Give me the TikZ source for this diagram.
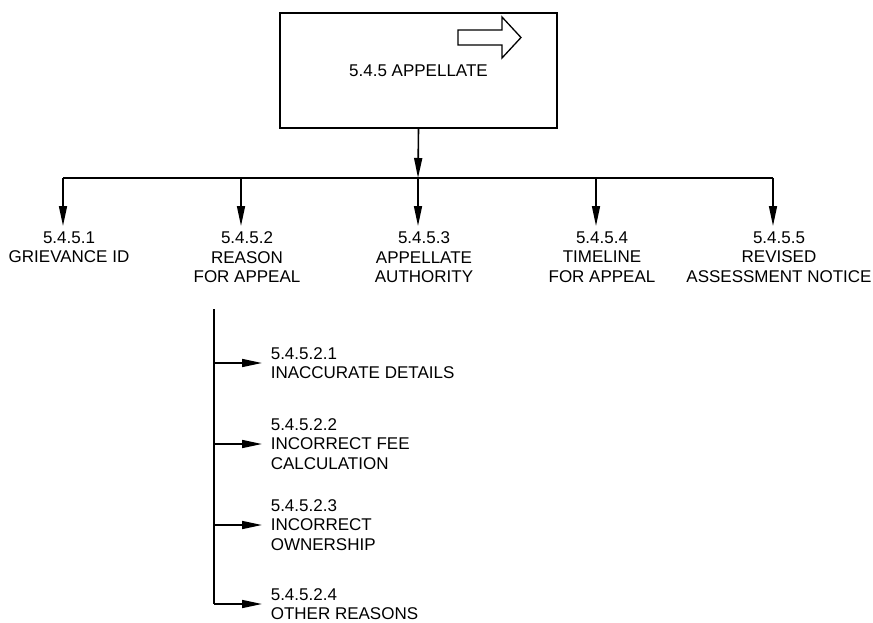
\documentclass[tikz,border=0pt]{standalone}
\usepackage{fontspec}
\setmainfont{Liberation Sans}
\usetikzlibrary{arrows.meta}

\begin{document}
\begin{tikzpicture}[x=1pt,y=-1pt,line width=1.6pt,
    txt/.style={font=\fontsize{17}{19.5}\selectfont},
    lbl/.style={txt,align=center,anchor=north,inner xsep=0pt,inner ysep=5pt},
    sub/.style={txt,align=left,anchor=west,inner xsep=8pt,inner ysep=0pt},
    arr/.style={-{Triangle[length=20pt,width=8pt]}}]
    \useasboundingbox (0,0) rectangle (873,623);
    % main box
    \node[txt,draw,minimum width=277pt,minimum height=115pt] (app) at (418.5,70.5) {5.4.5 APPELLATE};
    \draw[line width=1.3pt] (458,30) -- (502,30) -- (502,17) -- (521,37.5) -- (502,58) -- (502,45) -- (458,45) -- cycle;
    % first level
    \coordinate (bus) at (418,178);
    \node[lbl] (grv) at (69,226) {5.4.5.1\\GRIEVANCE ID};
    \node[lbl] (rsn) at (247,226) {5.4.5.2\\REASON\\FOR APPEAL};
    \node[lbl] (aut) at (424,226) {5.4.5.3\\APPELLATE\\AUTHORITY};
    \node[lbl] (tml) at (602,226) {5.4.5.4\\TIMELINE\\FOR APPEAL};
    \node[lbl] (rev) at (779,226) {5.4.5.5\\REVISED\\ASSESSMENT NOTICE};
    \coordinate (t1) at (63,178);
    \coordinate (t2) at (241,178);
    \coordinate (t3) at (418,178);
    \coordinate (t4) at (596,178);
    \coordinate (t5) at (773,178);
    \draw[arr] (app.south) -- (bus);
    \draw (t1) -- (t5);
    \draw[arr] (t1) -- (t1 |- grv.north);
    \draw[arr] (t2) -- (t2 |- rsn.north);
    \draw[arr] (t3) -- (t3 |- aut.north);
    \draw[arr] (t4) -- (t4 |- tml.north);
    \draw[arr] (t5) -- (t5 |- rev.north);
    % reasons for appeal
    \coordinate (spine) at (214,309);
    \node[sub] (s1) at (262,363) {5.4.5.2.1\\INACCURATE DETAILS};
    \node[sub] (s2) at (262,444) {5.4.5.2.2\\INCORRECT FEE\\CALCULATION};
    \node[sub] (s3) at (262,525) {5.4.5.2.3\\INCORRECT\\OWNERSHIP};
    \node[sub] (s4) at (262,604) {5.4.5.2.4\\OTHER REASONS};
    \draw (spine) -- (spine |- s4.west);
    \draw[arr] (spine |- s1.west) -- (s1.west);
    \draw[arr] (spine |- s2.west) -- (s2.west);
    \draw[arr] (spine |- s3.west) -- (s3.west);
    \draw[arr] (spine |- s4.west) -- (s4.west);
\end{tikzpicture}
\end{document}
